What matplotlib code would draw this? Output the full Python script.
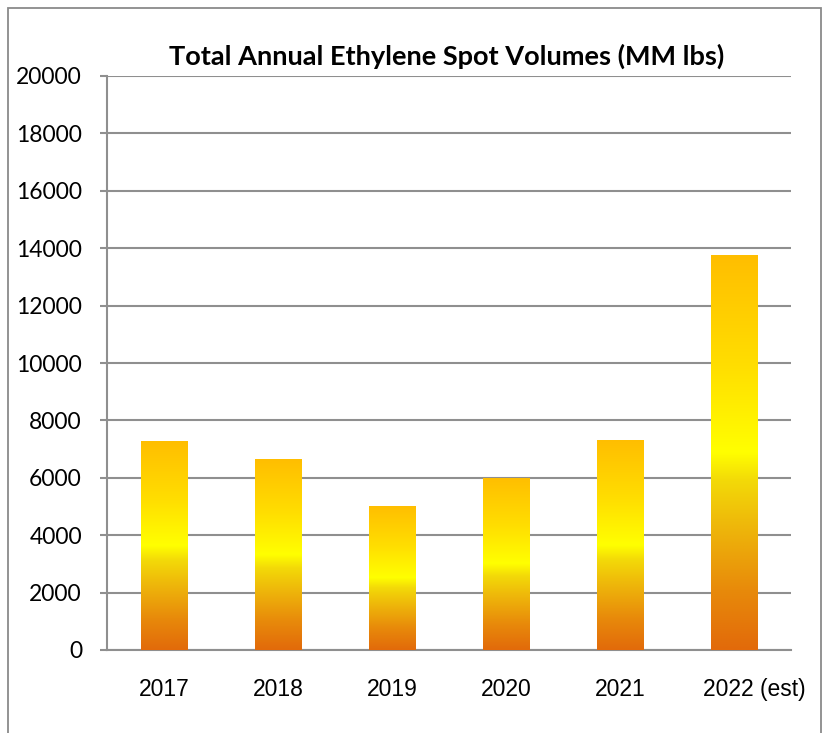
import matplotlib
matplotlib.use("Agg")
import matplotlib.pyplot as plt
import numpy as np
from matplotlib.colors import LinearSegmentedColormap
from matplotlib.patches import Rectangle

categories = ["2017", "2018", "2019", "2020", "2021", "2022 (est)"]
values = [7270, 6640, 5030, 6000, 7300, 13750]
yticks = [0, 2000, 4000, 6000, 8000, 10000, 12000, 14000, 16000, 18000, 20000]
title = "Total Annual Ethylene Spot Volumes (MM lbs)"

W, H = 823, 733
fig = plt.figure(figsize=(W / 100, H / 100), dpi=100)
fig.patch.set_facecolor("white")

ax = fig.add_axes([107 / W, (H - 650) / H, (791 - 107) / W, 574 / H])
ax.set_facecolor("white")

x = np.arange(len(categories))
bars = ax.bar(x, values, width=0.41, color="none", zorder=3)

cmap = LinearSegmentedColormap.from_list(
    "gold",
    [
        (0.0, (226 / 255, 106 / 255, 10 / 255)),
        (0.15, (232 / 255, 138 / 255, 10 / 255)),
        (0.33, (239 / 255, 188 / 255, 10 / 255)),
        (0.43, (243 / 255, 218 / 255, 8 / 255)),
        (0.5, (255 / 255, 255 / 255, 0 / 255)),
        (0.72, (255 / 255, 222 / 255, 0 / 255)),
        (1.0, (255 / 255, 190 / 255, 0 / 255)),
    ],
)
grad = np.linspace(0, 1, 256).reshape(-1, 1)
for b in bars:
    x0, y0 = b.get_x(), b.get_y()
    w, h = b.get_width(), b.get_height()
    im = ax.imshow(grad, cmap=cmap, origin="lower", aspect="auto",
                   extent=[x0, x0 + w, y0, y0 + h], zorder=3, interpolation="bilinear")
    im.set_clip_path(b)

ax.set_xlim(-0.5, len(categories) - 0.5)
ax.set_ylim(0, 20000)
ax.set_yticks(yticks)
ax.set_yticklabels([str(v) for v in yticks], family=["Lato", "DejaVu Sans"], fontsize=16.5)
ax.set_xticks(x)
xfont = dict(family=["Liberation Sans", "DejaVu Sans"], fontsize=16.5)
ax.set_xticklabels(categories[:-1] + [""], **xfont)
# last category label is drawn slightly right of its bar centre, as in the original
ax.annotate(categories[-1], xy=(x[-1], 0), xycoords=("data", "axes fraction"),
            xytext=(14.5, -20), textcoords="offset points", ha="center", va="top",
            **xfont)

gcol = "#8f8f8f"
ax.yaxis.grid(True, color=gcol, linewidth=1.5, zorder=1)
ax.set_axisbelow(True)
for s in ["top", "right"]:
    ax.spines[s].set_visible(False)
ax.spines["left"].set_color(gcol)
ax.spines["left"].set_linewidth(1.5)
ax.spines["bottom"].set_color(gcol)
ax.spines["bottom"].set_linewidth(1.5)
ax.tick_params(axis="y", length=5, width=1.5, color=gcol, pad=13, labelcolor="black")
ax.tick_params(axis="x", length=0, pad=20, labelcolor="black")

fig.text(447 / W, 1 - 56 / H, title, ha="center", va="center",
         fontsize=19.5, fontweight="bold", family=["Lato", "DejaVu Sans"])

border = Rectangle((8 / W, -0.02), (821 - 8) / W, (H - 8) / H + 0.02,
                   transform=fig.transFigure, fill=False, edgecolor="#8a8a8a",
                   linewidth=1.3)
fig.patches.append(border)

fig.savefig("out.png", dpi=100, facecolor="white")
